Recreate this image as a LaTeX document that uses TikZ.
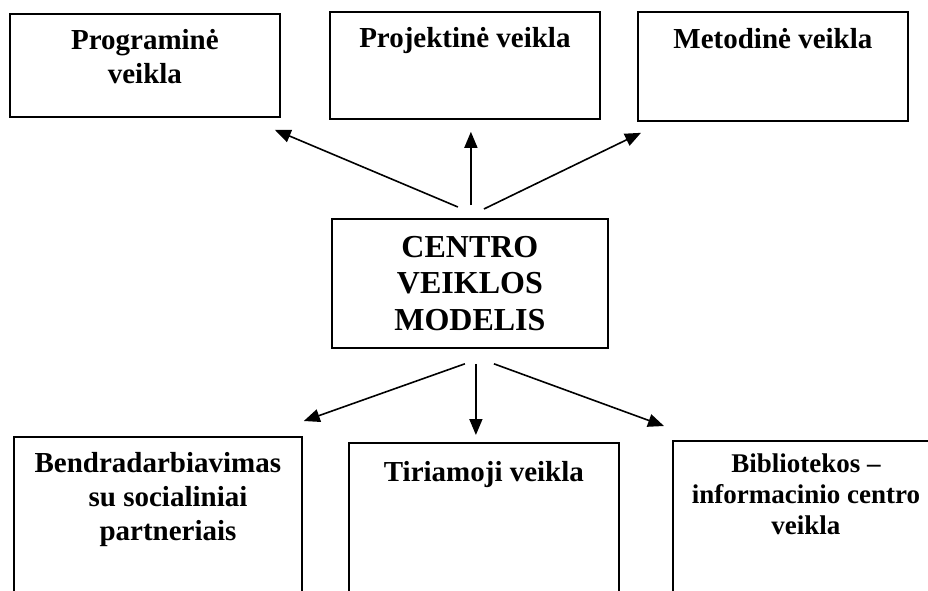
\documentclass[tikz,border=0pt]{standalone}
\usepackage{fontspec}
\setmainfont{Liberation Serif}
\usetikzlibrary{arrows.meta}

\begin{document}
\begin{tikzpicture}[x=1pt, y=-1pt]
    \tikzstyle{box} = [rectangle, draw=black, line width=1.8pt, minimum width=270pt, inner sep=0pt, anchor=north west]
    \tikzstyle{title} = [anchor=north, align=center, inner sep=0pt, font=\bfseries\fontsize{29}{34}\selectfont]
    \tikzstyle{arrow} = [line width=1.6pt, -{Triangle[length=16pt, width=13pt]}]

    % page is cut at the lower and right border
    \clip (0,0) rectangle (928,590);

            % node[Optionen](Name){Inhalt}
            \node (Programine) [box, minimum height=103pt, label={[title, yshift=-16pt]north:Programinė\\veikla}] at (9,13) {};
            \node (Projektine) [box, minimum height=107pt, label={[title, yshift=-16pt]north:Projektinė veikla}] at (329,11) {};
            \node (Metodine) [box, minimum height=109pt, label={[title, yshift=-17pt]north:Metodinė veikla}] at (637,11) {};

            \node (Centro) [box, minimum width=276pt, minimum height=129pt, align=center, font=\bfseries\fontsize{32}{36.5}\selectfont] at (331,218) {CENTRO\\VEIKLOS\\MODELIS};

            \node (Bendradarbiavimas) [box, minimum width=288pt, minimum height=200pt, label={[title, yshift=-16pt]north:Bendradarbiavimas\\\hspace*{0.7em}su socialiniai\\\hspace*{0.7em}partneriais}] at (13,436) {};
            \node (Tiriamoji) [box, minimum height=200pt, label={[title, yshift=-19pt]north:Tiriamoji veikla}] at (348,442) {};
            \node (Biblioteka) [box, minimum width=266pt, minimum height=200pt, label={[title, yshift=-14pt, font=\bfseries\fontsize{27}{31}\selectfont]north:Bibliotekos --\\informacinio centro\\veikla}] at (672,440) {};

            % ----- ----- ----- ----- ----- ----- ----- ----- ----- ----- ----- ----- -----

            \draw [arrow] ([shift={(-12,-11)}]Centro.north) -- ([shift={(-6,12)}]Programine.south east);
            \draw [arrow] ([shift={(1,-13)}]Centro.north) -- ([shift={(6,12)}]Projektine.south);
            \draw [arrow] ([shift={(14,-9)}]Centro.north) -- ([shift={(4,11)}]Metodine.south west);
            \draw [arrow] ([shift={(-5,15)}]Centro.south) -- ([shift={(1,-15)}]Bendradarbiavimas.north east);
            \draw [arrow] ([shift={(6,15)}]Centro.south) -- ([shift={(-8,-7)}]Tiriamoji.north);
            \draw [arrow] ([shift={(24,15)}]Centro.south) -- ([shift={(-8,-14)}]Biblioteka.north west);
\end{tikzpicture}
\end{document}
